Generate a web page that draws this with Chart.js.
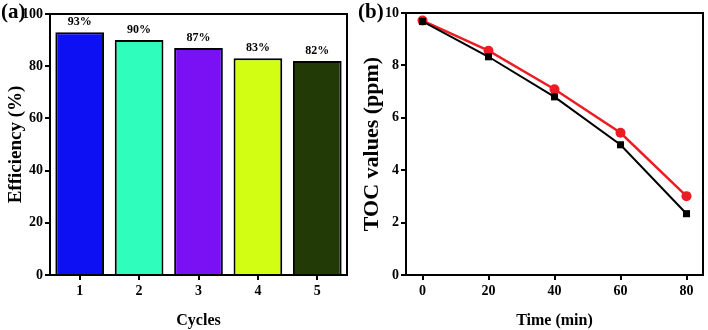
<!DOCTYPE html>
<html>
<head>
<meta charset="utf-8">
<script src="https://cdn.jsdelivr.net/npm/chart.js@4.4.1/dist/chart.umd.min.js"></script>
<style>
  html, body { margin: 0; padding: 0; background: #fff; }
  #wrap { position: relative; width: 708px; height: 330px; overflow: hidden; }
  canvas { position: absolute; top: 0; }
  .panel { position: absolute; font: bold 21px "Liberation Serif", serif; color: #000; }
</style>
</head>
<body>
<div id="wrap">
  <canvas id="chartA" width="354" height="330" style="left:0"></canvas>
  <canvas id="chartB" width="354" height="330" style="left:354px"></canvas>
  <div class="panel" style="left:1px; top:-1px">(a)</div>
  <div class="panel" style="left:358px; top:-1px">(b)</div>
</div>
<script>
// Panel (a): recycling efficiency
const cycles = ['1', '2', '3', '4', '5'];
const efficiency = [93, 90, 87, 83, 82];
const barColors = ['#0c10f2', '#2efdbb', '#7a10f4', '#d2fe14', '#223a05'];
const effTicks = [0, 20, 40, 60, 80, 100];

// Panel (b): TOC removal
const times = [0, 20, 40, 60, 80];
const tocBlack = [9.68, 8.33, 6.80, 4.97, 2.34];
const tocRed = [9.71, 8.56, 7.09, 5.43, 3.01];
const timeTicks = [0, 20, 40, 60, 80];
const tocTicks = [0, 2, 4, 6, 8, 10];

const serif = '"Liberation Serif", "Times New Roman", serif';
const tickFont = { family: serif, size: 14, weight: 'bold' };
const xTitleFont = { family: serif, size: 16, weight: 'bold' };

// draws the closed frame round the plot area
const frame = {
    id: 'frame',
    afterDraw(chart) {
        const a = chart.chartArea, c = chart.ctx;
        c.save();
        c.strokeStyle = '#000';
        c.lineWidth = 2;
        c.strokeRect(a.left, a.top, a.right - a.left, a.bottom - a.top);
        c.restore();
    }
};

// percent labels on top of the bars
const barLabels = {
    id: 'barLabels',
    afterDatasetsDraw(chart) {
        const c = chart.ctx;
        const meta = chart.getDatasetMeta(0);
        c.save();
        c.font = 'bold 12px ' + serif;
        c.fillStyle = '#000';
        c.textAlign = 'center';
        c.textBaseline = 'bottom';
        meta.data.forEach((bar, i) => {
            c.fillText(efficiency[i] + '%', bar.x, bar.y - 4);
        });
        c.restore();
    }
};

function axisGrid() {
    return { drawOnChartArea: false, drawTicks: true, tickLength: 5, lineWidth: 2, color: '#000', offset: false };
}

new Chart(document.getElementById('chartA'), {
    type: 'bar',
    data: {
        labels: cycles,
        datasets: [{
            data: efficiency,
            backgroundColor: barColors,
            borderColor: '#000',
            borderWidth: 2,
            barPercentage: 0.82,
            categoryPercentage: 1
        }]
    },
    options: {
        responsive: false,
        animation: false,
        devicePixelRatio: 1,
        layout: { padding: { left: 0, top: 14, right: 7, bottom: 0 } },
        plugins: { legend: { display: false }, tooltip: { enabled: false } },
        scales: {
            x: {
                offset: true,
                grid: axisGrid(),
                border: { display: false },
                ticks: { color: '#000', font: tickFont, padding: 3 },
                title: { display: true, text: 'Cycles', color: '#000', font: xTitleFont, padding: { top: 7, bottom: 0 } },
                afterFit(axis) { axis.height = 55; }
            },
            y: {
                min: 0,
                max: 100,
                grid: axisGrid(),
                border: { display: false },
                ticks: { color: '#000', font: tickFont, padding: 2 },
                afterBuildTicks(axis) { axis.ticks = effTicks.map(v => ({ value: v })); },
                title: { display: true, text: 'Efficiency (%)', color: '#000', font: { family: serif, size: 19, weight: 'bold' }, padding: { top: 5, bottom: 0 } },
                afterFit(axis) { axis.width = 50; }
            }
        }
    },
    plugins: [frame, barLabels]
});

new Chart(document.getElementById('chartB'), {
    type: 'line',
    data: {
        datasets: [{
            data: times.map((t, i) => ({ x: t, y: tocBlack[i] })),
            borderColor: '#000',
            backgroundColor: '#000',
            borderWidth: 2,
            pointStyle: 'rect',
            pointRadius: 5,
            pointBorderWidth: 0,
            tension: 0
        }, {
            data: times.map((t, i) => ({ x: t, y: tocRed[i] })),
            borderColor: '#ec1c24',
            backgroundColor: '#ec1c24',
            borderWidth: 2.5,
            pointStyle: 'circle',
            pointRadius: 5,
            pointBorderWidth: 0,
            tension: 0
        }]
    },
    options: {
        responsive: false,
        animation: false,
        devicePixelRatio: 1,
        layout: { padding: { left: 0, top: 13, right: 2, bottom: 0 } },
        plugins: { legend: { display: false }, tooltip: { enabled: false } },
        scales: {
            x: {
                type: 'linear',
                min: -5,
                max: 85,
                grid: axisGrid(),
                border: { display: false },
                ticks: { color: '#000', font: tickFont, padding: 3 },
                afterBuildTicks(axis) { axis.ticks = timeTicks.map(v => ({ value: v })); },
                title: { display: true, text: 'Time (min)', color: '#000', font: xTitleFont, padding: { top: 7, bottom: 0 } },
                afterFit(axis) { axis.height = 55; }
            },
            y: {
                min: 0,
                max: 10,
                grid: axisGrid(),
                border: { display: false },
                ticks: { color: '#000', font: tickFont, padding: 2 },
                afterBuildTicks(axis) { axis.ticks = tocTicks.map(v => ({ value: v })); },
                title: { display: true, text: 'TOC values (ppm)', color: '#000', font: { family: serif, size: 22, weight: 'bold' }, padding: { top: 5, bottom: 0 } },
                afterFit(axis) { axis.width = 52; }
            }
        }
    },
    plugins: [frame]
});
</script>
</body>
</html>
